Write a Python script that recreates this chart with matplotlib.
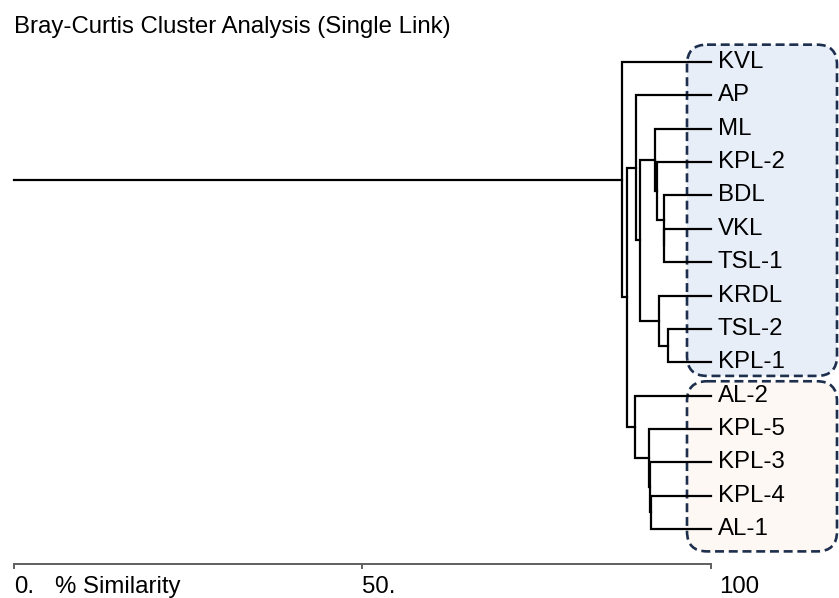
import matplotlib.pyplot as plt
from matplotlib.patches import FancyBboxPatch

# Leaves, top to bottom
leaves = ["KVL", "AP", "ML", "KPL-2", "BDL", "VKL", "TSL-1", "KRDL",
          "TSL-2", "KPL-1", "AL-2", "KPL-5", "KPL-3", "KPL-4", "AL-1"]

# Merges (child a, child b, % similarity); new nodes numbered from len(leaves)
merges = [
    ("TSL-2", "KPL-1", 93.9),   # 15
    ("VKL", "TSL-1", 93.3),     # 16
    ("BDL", 16, 93.2),          # 17
    ("KRDL", 15, 92.6),         # 18
    ("KPL-2", 17, 92.2),        # 19
    ("ML", 19, 91.9),           # 20
    ("KPL-4", "AL-1", 91.35),   # 21
    ("KPL-3", 21, 91.2),        # 22
    ("KPL-5", 22, 91.1),        # 23
    (20, 18, 89.8),             # 24
    ("AP", 24, 89.2),           # 25
    ("AL-2", 23, 89.1),         # 26
    (25, 26, 88.0),             # 27
    ("KVL", 27, 87.2),          # 28
]

# Highlighted groups (first leaf, last leaf)
groups = [("KVL", "KPL-1"), ("AL-2", "AL-1")]
group_colors = ["#e8eef8", "#fdf8f4"]

ticks = [0, 50, 100]
tick_labels = ["0.", "50.", "100"]

# pixel mapping of the figure
W, H = 839, 598
px_x0, px_per_x = 14, 6.97
px_y0, px_per_y = 62, 33.36

fig = plt.figure(figsize=(W / 100, H / 100), dpi=100)
ax = fig.add_axes([0, 0, 1, 1])
ax.set_xlim(-px_x0 / px_per_x, (W - px_x0) / px_per_x)
ax.set_ylim((H - px_y0) / px_per_y, -px_y0 / px_per_y)
ax.axis("off")

font = "Liberation Sans"
fs = 17.3

# node positions
pos = {name: (100.0, i) for i, name in enumerate(leaves)}
n = len(leaves)
for k, (a, b, s) in enumerate(merges):
    xa, ya = pos[a]
    xb, yb = pos[b]
    ax.plot([xa, s, s, xb], [ya, ya, yb, yb], color="black", lw=1.6,
            solid_joinstyle="miter", solid_capstyle="projecting", zorder=3)
    pos[n + k] = (s, (ya + yb) / 2)

# root stem to 0
rx, ry = pos[n + len(merges) - 1]
ax.plot([0, rx], [ry, ry], color="black", lw=1.6, zorder=3)

# leaf labels
for i, name in enumerate(leaves):
    ax.text(101.0, i, name, fontsize=fs, family=font, va="center", ha="left", zorder=4)

# dashed rounded group boxes
box_x0 = (687 - px_x0) / px_per_x
box_x1 = (837 - px_x0) / px_per_x
r = 20 / px_per_x
aspect = px_per_x / px_per_y
for (g0, g1), col in zip(groups, group_colors):
    i0, i1 = leaves.index(g0), leaves.index(g1)
    top = i0 - 0.52
    bot = i1 + 0.67 if i1 == len(leaves) - 1 else i1 + 0.41
    if i0 > 0:
        top = i0 - 0.43
    box = FancyBboxPatch((box_x0, top), box_x1 - box_x0, bot - top,
                         boxstyle=f"round,pad=0,rounding_size={r}",
                         mutation_aspect=aspect, facecolor=col,
                         edgecolor="#1d2f4d", lw=1.9,
                         linestyle=(0, (3.4, 1.8)), zorder=1)
    ax.add_patch(box)

# similarity axis
ay = (564.3 - px_y0) / px_per_y
tick_len = 4 / px_per_y
ax.plot([0, 100], [ay, ay], color="#606060", lw=1.4, zorder=2)
for t, lab in zip(ticks, tick_labels):
    ax.plot([t, t], [ay, ay + tick_len], color="#606060", lw=1.4, zorder=2)
    dx = 1.1 if t == 100 else 0
    ax.text(t + dx, (593 - px_y0) / px_per_y, lab, fontsize=fs, family=font,
            va="baseline", ha="left")
ax.text((55 - px_x0) / px_per_x, (593 - px_y0) / px_per_y, "% Similarity",
        fontsize=fs, family=font, va="baseline", ha="left")

fig.text(14 / W, 1 - 33 / H, "Bray-Curtis Cluster Analysis (Single Link)",
         fontsize=fs, family=font, va="baseline", ha="left")

fig.savefig("out.png", dpi=100)
